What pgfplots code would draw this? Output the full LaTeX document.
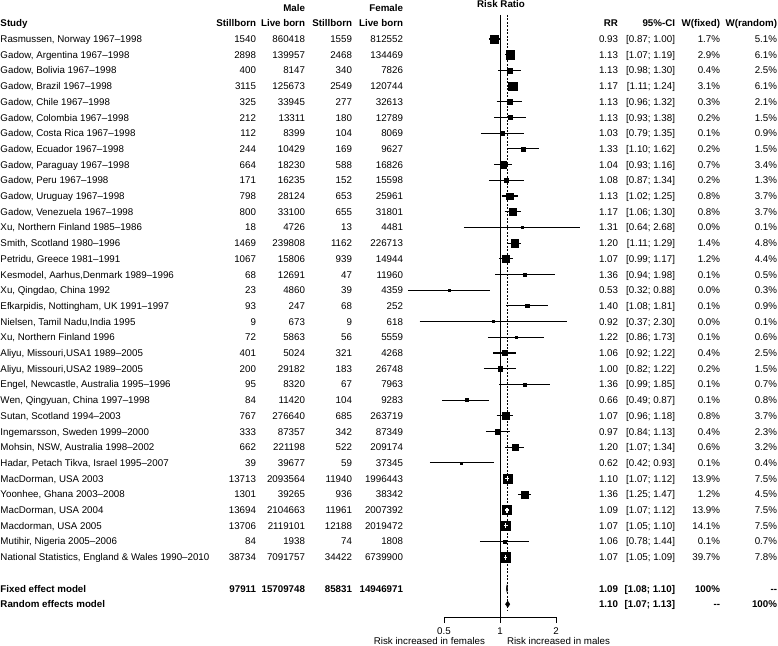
\documentclass[border=0pt]{standalone}
\usepackage{pgfplots}
\usepackage{pgfplotstable}
\pgfplotsset{compat=1.18}
\usepackage{fontspec}
\setmainfont{Liberation Sans}
\newcommand\tf{\fontsize{9.75}{11}\selectfont}
\newcommand\lrow[6]{%
 \pgfmathsetmacro\yy{-(26.8+15.7*(#1))}%
 \node[anchor=base west] at (0.5pt,\yy pt) {#2};
 \node[anchor=base east] at (256pt,\yy pt) {#3};
 \node[anchor=base east] at (305pt,\yy pt) {#4};
 \node[anchor=base east] at (352pt,\yy pt) {#5};
 \node[anchor=base east] at (403pt,\yy pt) {#6};}
\newcommand\rrow[5]{%
 \pgfmathsetmacro\yy{-(26.8+15.7*(#1))}%
 \node[anchor=base east] at (618pt,\yy pt) {#2};
 \node[anchor=base east] at (675pt,\yy pt) {#3};
 \node[anchor=base east] at (720pt,\yy pt) {#4};
 \node[anchor=base east] at (777pt,\yy pt) {#5};}
\pgfplotstableread{
row rr lo hi ms
1 0.93 0.87 1.00 3.79
2 1.13 1.07 1.19 4.15
3 1.13 0.98 1.30 2.66
4 1.17 1.11 1.24 4.15
5 1.13 0.96 1.32 2.43
6 1.13 0.93 1.38 2.06
7 1.03 0.79 1.35 1.59
8 1.33 1.10 1.62 2.06
9 1.04 0.93 1.16 3.10
10 1.08 0.87 1.34 1.92
11 1.13 1.02 1.25 3.23
12 1.17 1.06 1.30 3.23
13 1.31 0.64 2.68 1.00
14 1.20 1.11 1.29 3.68
15 1.07 0.99 1.17 3.52
16 1.36 0.94 1.98 1.19
17 0.53 0.32 0.88 1.00
18 1.40 1.08 1.81 1.59
19 0.92 0.37 2.30 1.00
20 1.22 0.86 1.73 1.30
21 1.06 0.92 1.22 2.66
22 1.00 0.82 1.22 2.06
23 1.36 0.99 1.85 1.41
24 0.66 0.49 0.87 1.50
25 1.07 0.96 1.18 3.23
26 0.97 0.84 1.13 2.55
27 1.20 1.07 1.34 3.01
28 0.62 0.42 0.93 1.06
29 1.10 1.07 1.12 4.60
30 1.36 1.25 1.47 3.56
31 1.09 1.07 1.12 4.60
32 1.07 1.05 1.10 4.60
33 1.06 0.78 1.44 1.41
34 1.07 1.05 1.09 4.69
}\studies
\begin{document}
\begin{tikzpicture}[every node/.style={inner sep=0pt, outer sep=0pt, font=\tf}]
\path[use as bounding box] (0pt,0pt) rectangle (778pt,-645pt);
\begin{axis}[at={(402.72pt,-645pt)}, anchor=south west, scale only axis,
  width=186.05pt, height=645pt, xmode=log, xmin=0.3, xmax=3,
  ymin=-1.4841, ymax=39.5987, y dir=reverse, hide axis, clip=false,
  clip marker paths=true]
% reference lines
\addplot[black, line width=0.9pt] coordinates {(1,-0.53) (1,37.82)};
\addplot[black, line width=0.6pt, dash pattern=on 2pt off 1.5pt] coordinates {(1.09,-0.53) (1.09,37.4)};
% confidence intervals
\addplot[black, line width=1.1pt, unbounded coords=jump] coordinates {
(0.87,1) (1.00,1) (nan,nan)
(1.07,2) (1.19,2) (nan,nan)
(0.98,3) (1.30,3) (nan,nan)
(1.11,4) (1.24,4) (nan,nan)
(0.96,5) (1.32,5) (nan,nan)
(0.93,6) (1.38,6) (nan,nan)
(0.79,7) (1.35,7) (nan,nan)
(1.10,8) (1.62,8) (nan,nan)
(0.93,9) (1.16,9) (nan,nan)
(0.87,10) (1.34,10) (nan,nan)
(1.02,11) (1.25,11) (nan,nan)
(1.06,12) (1.30,12) (nan,nan)
(0.64,13) (2.68,13) (nan,nan)
(1.11,14) (1.29,14) (nan,nan)
(0.99,15) (1.17,15) (nan,nan)
(0.94,16) (1.98,16) (nan,nan)
(0.32,17) (0.88,17) (nan,nan)
(1.08,18) (1.81,18) (nan,nan)
(0.37,19) (2.30,19) (nan,nan)
(0.86,20) (1.73,20) (nan,nan)
(0.92,21) (1.22,21) (nan,nan)
(0.82,22) (1.22,22) (nan,nan)
(0.99,23) (1.85,23) (nan,nan)
(0.49,24) (0.87,24) (nan,nan)
(0.96,25) (1.18,25) (nan,nan)
(0.84,26) (1.13,26) (nan,nan)
(1.07,27) (1.34,27) (nan,nan)
(0.42,28) (0.93,28) (nan,nan)
(1.25,30) (1.47,30) (nan,nan)
(0.78,33) (1.44,33)
};
% squares
\addplot[scatter, only marks, mark=square*,
  scatter/use mapped color={draw=black, fill=black},
  visualization depends on={\thisrow{ms}\as\msz},
  scatter/@pre marker code/.append style={/tikz/mark size=\msz pt}]
  table[x=rr, y=row]{\studies};
% white CI inside large boxes
\addplot[white, line width=1.1pt, unbounded coords=jump] coordinates {
(1.07,29) (1.12,29) (nan,nan) (1.10,28.84) (1.10,29.16) (nan,nan)
(1.07,31) (1.12,31) (nan,nan) (1.09,30.84) (1.09,31.16) (nan,nan)
(1.05,32) (1.10,32) (nan,nan) (1.07,31.84) (1.07,32.16) (nan,nan)
(1.05,34) (1.09,34) (nan,nan) (1.07,33.84) (1.07,34.16)
};
% diamonds
\addplot[black, fill=black] coordinates {(1.08,36) (1.09,35.78) (1.10,36) (1.09,36.22)} -- cycle;
\addplot[black, fill=black] coordinates {(1.07,37) (1.10,36.8) (1.13,37) (1.10,37.2)} -- cycle;
% bottom axis
\draw[line width=0.6pt] (axis cs:0.5,38.2) -- (axis cs:0.5,37.82) -- (axis cs:2,37.82) -- (axis cs:2,38.2);
\draw[line width=0.6pt] (axis cs:1,37.82) -- (axis cs:1,38.2);
\node[anchor=base] at (axis cs:0.5,38.93) {0.5};
\node[anchor=base] at (axis cs:1,38.93) {1};
\node[anchor=base] at (axis cs:2,38.93) {2};
\end{axis}
\node[anchor=base] at (501pt,-8pt) {\bfseries Risk Ratio};
\node[anchor=base east] at (485pt,-644pt) {Risk increased in females};
\node[anchor=base west] at (507pt,-644pt) {Risk increased in males};
% headers
\lrow{-1}{}{}{\bfseries Male}{}{\bfseries Female}
\lrow{0}{\bfseries Study}{\bfseries Stillborn}{\bfseries Live born}{\bfseries Stillborn}{\bfseries Live born}
\rrow{0}{\bfseries RR}{\bfseries 95\%-CI}{\bfseries W(fixed)}{\bfseries W(random)}
% rows
\lrow{1}{Rasmussen, Norway 1967--1998}{1540}{860418}{1559}{812552}
\rrow{1}{0.93}{[0.87; 1.00]}{1.7\%}{5.1\%}
\lrow{2}{Gadow, Argentina 1967--1998}{2898}{139957}{2468}{134469}
\rrow{2}{1.13}{[1.07; 1.19]}{2.9\%}{6.1\%}
\lrow{3}{Gadow, Bolivia 1967--1998}{400}{8147}{340}{7826}
\rrow{3}{1.13}{[0.98; 1.30]}{0.4\%}{2.5\%}
\lrow{4}{Gadow, Brazil 1967--1998}{3115}{125673}{2549}{120744}
\rrow{4}{1.17}{[1.11; 1.24]}{3.1\%}{6.1\%}
\lrow{5}{Gadow, Chile 1967--1998}{325}{33945}{277}{32613}
\rrow{5}{1.13}{[0.96; 1.32]}{0.3\%}{2.1\%}
\lrow{6}{Gadow, Colombia 1967--1998}{212}{13311}{180}{12789}
\rrow{6}{1.13}{[0.93; 1.38]}{0.2\%}{1.5\%}
\lrow{7}{Gadow, Costa Rica 1967--1998}{112}{8399}{104}{8069}
\rrow{7}{1.03}{[0.79; 1.35]}{0.1\%}{0.9\%}
\lrow{8}{Gadow, Ecuador 1967--1998}{244}{10429}{169}{9627}
\rrow{8}{1.33}{[1.10; 1.62]}{0.2\%}{1.5\%}
\lrow{9}{Gadow, Paraguay 1967--1998}{664}{18230}{588}{16826}
\rrow{9}{1.04}{[0.93; 1.16]}{0.7\%}{3.4\%}
\lrow{10}{Gadow, Peru 1967--1998}{171}{16235}{152}{15598}
\rrow{10}{1.08}{[0.87; 1.34]}{0.2\%}{1.3\%}
\lrow{11}{Gadow, Uruguay 1967--1998}{798}{28124}{653}{25961}
\rrow{11}{1.13}{[1.02; 1.25]}{0.8\%}{3.7\%}
\lrow{12}{Gadow, Venezuela 1967--1998}{800}{33100}{655}{31801}
\rrow{12}{1.17}{[1.06; 1.30]}{0.8\%}{3.7\%}
\lrow{13}{Xu, Northern Finland 1985--1986}{18}{4726}{13}{4481}
\rrow{13}{1.31}{[0.64; 2.68]}{0.0\%}{0.1\%}
\lrow{14}{Smith, Scotland 1980--1996}{1469}{239808}{1162}{226713}
\rrow{14}{1.20}{[1.11; 1.29]}{1.4\%}{4.8\%}
\lrow{15}{Petridu, Greece 1981--1991}{1067}{15806}{939}{14944}
\rrow{15}{1.07}{[0.99; 1.17]}{1.2\%}{4.4\%}
\lrow{16}{Kesmodel, Aarhus,Denmark 1989--1996}{68}{12691}{47}{11960}
\rrow{16}{1.36}{[0.94; 1.98]}{0.1\%}{0.5\%}
\lrow{17}{Xu, Qingdao, China 1992}{23}{4860}{39}{4359}
\rrow{17}{0.53}{[0.32; 0.88]}{0.0\%}{0.3\%}
\lrow{18}{Efkarpidis, Nottingham, UK 1991--1997}{93}{247}{68}{252}
\rrow{18}{1.40}{[1.08; 1.81]}{0.1\%}{0.9\%}
\lrow{19}{Nielsen, Tamil Nadu,India 1995}{9}{673}{9}{618}
\rrow{19}{0.92}{[0.37; 2.30]}{0.0\%}{0.1\%}
\lrow{20}{Xu, Northern Finland 1996}{72}{5863}{56}{5559}
\rrow{20}{1.22}{[0.86; 1.73]}{0.1\%}{0.6\%}
\lrow{21}{Aliyu, Missouri,USA1 1989--2005}{401}{5024}{321}{4268}
\rrow{21}{1.06}{[0.92; 1.22]}{0.4\%}{2.5\%}
\lrow{22}{Aliyu, Missouri,USA2 1989--2005}{200}{29182}{183}{26748}
\rrow{22}{1.00}{[0.82; 1.22]}{0.2\%}{1.5\%}
\lrow{23}{Engel, Newcastle, Australia 1995--1996}{95}{8320}{67}{7963}
\rrow{23}{1.36}{[0.99; 1.85]}{0.1\%}{0.7\%}
\lrow{24}{Wen, Qingyuan, China 1997--1998}{84}{11420}{104}{9283}
\rrow{24}{0.66}{[0.49; 0.87]}{0.1\%}{0.8\%}
\lrow{25}{Sutan, Scotland 1994--2003}{767}{276640}{685}{263719}
\rrow{25}{1.07}{[0.96; 1.18]}{0.8\%}{3.7\%}
\lrow{26}{Ingemarsson, Sweden 1999--2000}{333}{87357}{342}{87349}
\rrow{26}{0.97}{[0.84; 1.13]}{0.4\%}{2.3\%}
\lrow{27}{Mohsin, NSW, Australia 1998--2002}{662}{221198}{522}{209174}
\rrow{27}{1.20}{[1.07; 1.34]}{0.6\%}{3.2\%}
\lrow{28}{Hadar, Petach Tikva, Israel 1995--2007}{39}{39677}{59}{37345}
\rrow{28}{0.62}{[0.42; 0.93]}{0.1\%}{0.4\%}
\lrow{29}{MacDorman, USA 2003}{13713}{2093564}{11940}{1996443}
\rrow{29}{1.10}{[1.07; 1.12]}{13.9\%}{7.5\%}
\lrow{30}{Yoonhee, Ghana 2003--2008}{1301}{39265}{936}{38342}
\rrow{30}{1.36}{[1.25; 1.47]}{1.2\%}{4.5\%}
\lrow{31}{MacDorman, USA 2004}{13694}{2104663}{11961}{2007392}
\rrow{31}{1.09}{[1.07; 1.12]}{13.9\%}{7.5\%}
\lrow{32}{Macdorman, USA 2005}{13706}{2119101}{12188}{2019472}
\rrow{32}{1.07}{[1.05; 1.10]}{14.1\%}{7.5\%}
\lrow{33}{Mutihir, Nigeria 2005--2006}{84}{1938}{74}{1808}
\rrow{33}{1.06}{[0.78; 1.44]}{0.1\%}{0.7\%}
\lrow{34}{National Statistics, England \& Wales 1990--2010}{38734}{7091757}{34422}{6739900}
\rrow{34}{1.07}{[1.05; 1.09]}{39.7\%}{7.8\%}
\lrow{36}{\bfseries Fixed effect model}{\bfseries 97911}{\bfseries 15709748}{\bfseries 85831}{\bfseries 14946971}
\rrow{36}{\bfseries 1.09}{\bfseries [1.08; 1.10]}{\bfseries 100\%}{\bfseries -{}-}
\lrow{37}{\bfseries Random effects model}{}{}{}{}
\rrow{37}{\bfseries 1.10}{\bfseries [1.07; 1.13]}{\bfseries -{}-}{\bfseries 100\%}
\end{tikzpicture}
\end{document}
